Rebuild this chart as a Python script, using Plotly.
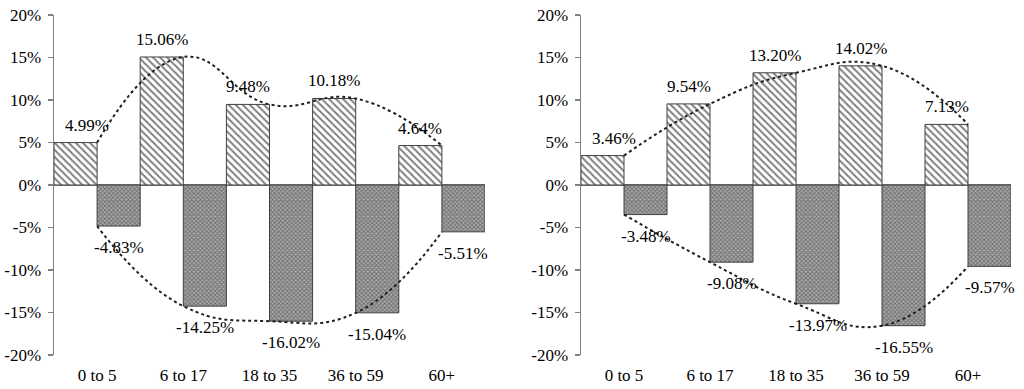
import plotly.graph_objects as go

categories = ["0 to 5", "6 to 17", "18 to 35", "36 to 59", "60+"]
left_pos = [4.99, 15.06, 9.48, 10.18, 4.64]
left_neg = [-4.83, -14.25, -16.02, -15.04, -5.51]
right_pos = [3.46, 9.54, 13.20, 14.02, 7.13]
right_neg = [-3.48, -9.08, -13.97, -16.55, -9.57]
y_ticks = [-20, -15, -10, -5, 0, 5, 10, 15, 20]
y_tick_labels = ["-20%", "-15%", "-10%", "-5%", "0%", "5%", "10%", "15%", "20%"]

FONT = "Liberation Serif"
xs = list(range(len(categories)))

fig = go.Figure()
annotations = []

panels = [
    (left_pos, left_neg, "x", "y"),
    (right_pos, right_neg, "x2", "y2"),
]

for pos, neg, xa, ya in panels:
    fig.add_trace(go.Bar(
        x=xs, y=pos, width=0.5, offset=-0.5, xaxis=xa, yaxis=ya,
        marker=dict(color="white", line=dict(color="#404040", width=1),
                    pattern=dict(shape="\\", size=5, solidity=0.4, fgcolor="#000000", bgcolor="white")),
        hoverinfo="skip", showlegend=False,
    ))
    fig.add_trace(go.Bar(
        x=xs, y=neg, width=0.5, offset=0, xaxis=xa, yaxis=ya,
        marker=dict(color="#909090", line=dict(color="#404040", width=1),
                    pattern=dict(shape="x", size=3, solidity=0.5, fgcolor="#303030", bgcolor="#ababab")),
        hoverinfo="skip", showlegend=False,
    ))
    for vals in (pos, neg):
        fig.add_trace(go.Scatter(
            x=xs, y=vals, mode="lines", xaxis=xa, yaxis=ya,
            line=dict(shape="spline", smoothing=1.3, dash="dot", color="#202020", width=2),
            hoverinfo="skip", showlegend=False,
        ))
    for i, v in enumerate(pos):
        annotations.append(dict(
            x=i - 0.25, y=v, xref=xa, yref=ya, text=f"{v:.2f}%", showarrow=False,
            yanchor="bottom", yshift=6, xshift=11 if i == 0 else 0,
            font=dict(family=FONT, size=17, color="black"),
        ))
    for i, v in enumerate(neg):
        annotations.append(dict(
            x=i + 0.25, y=v, xref=xa, yref=ya, text=f"{v:.2f}%", showarrow=False,
            yanchor="top", yshift=-10,
            font=dict(family=FONT, size=17, color="black"),
        ))

xaxis_common = dict(
    range=[-0.5, 4.5], tickvals=xs, ticktext=categories, showline=False,
    showgrid=False, zeroline=False, ticks="", ticklabelstandoff=8, automargin=False,
    tickfont=dict(family=FONT, size=17, color="black"), fixedrange=True,
    ticklabeloverflow="allow",
)
yaxis_common = dict(
    range=[-20, 20], tickvals=y_ticks, ticktext=y_tick_labels, showline=True,
    linecolor="#808080", linewidth=1.5, ticks="outside", ticklen=5, tickcolor="#808080",
    tickwidth=1.5, showgrid=False, zeroline=True, zerolinecolor="#808080", zerolinewidth=1.5,
    tickfont=dict(family=FONT, size=17, color="black"), ticklabelstandoff=3, fixedrange=True,
    automargin=False, ticklabeloverflow="allow",
)

ydom = [34 / 389, 374 / 389]
fig.update_layout(
    width=1024, height=389,
    margin=dict(l=0, r=0, t=0, b=0, pad=0, autoexpand=False),
    paper_bgcolor="white", plot_bgcolor="white",
    barmode="overlay", bargap=0,
    xaxis=dict(domain=[54 / 1024, 485 / 1024], anchor="y", **xaxis_common),
    yaxis=dict(domain=ydom, anchor="x", **yaxis_common),
    xaxis2=dict(domain=[581 / 1024, 1011 / 1024], anchor="y2", **xaxis_common),
    yaxis2=dict(domain=ydom, anchor="x2", **yaxis_common),
    annotations=annotations,
    font=dict(family=FONT, size=17, color="black"),
    hovermode=False,
)

fig.write_html("out.html", config={"displayModeBar": False, "staticPlot": True},
               post_script="document.body.style.margin='0px';")
